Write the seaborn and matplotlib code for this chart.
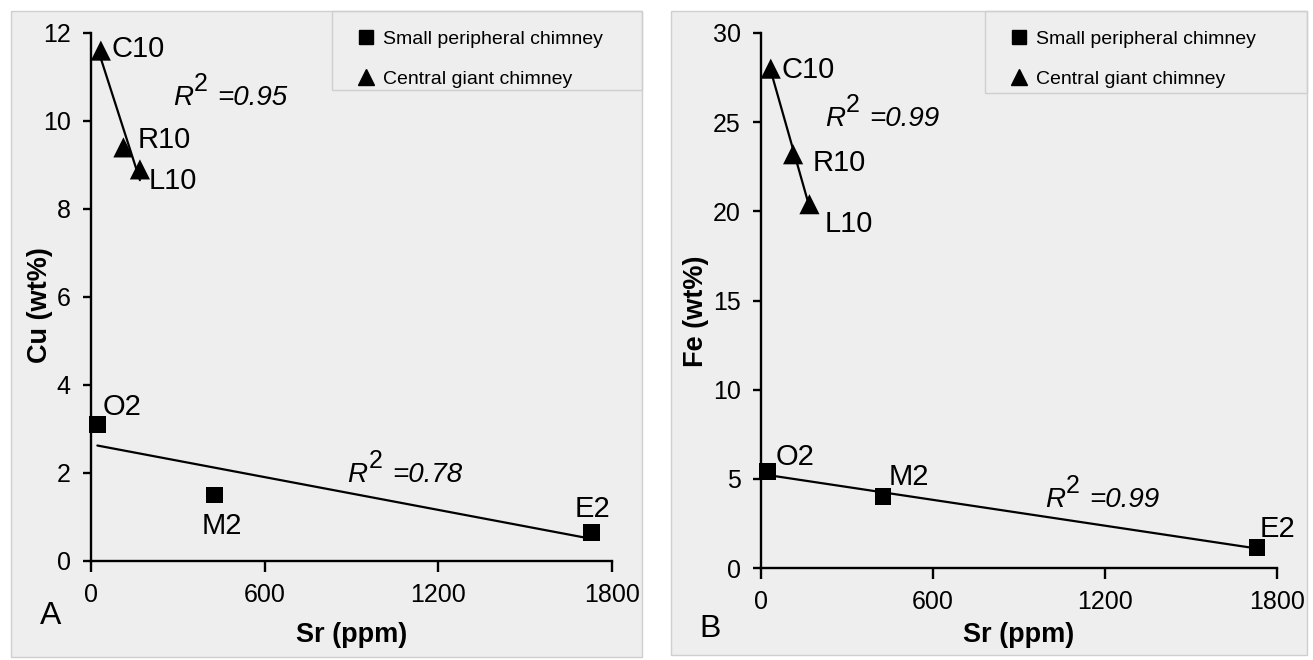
import pandas as pd
import matplotlib.pyplot as plt
import seaborn as sns
from matplotlib.lines import Line2D
from matplotlib.patches import Rectangle

# ==========================================================
# DATA
# ==========================================================

samples = ["C10", "R10", "L10", "O2", "M2", "E2"]
chimney = ["Central giant chimney"] * 3 + ["Small peripheral chimney"] * 3
sr_ppm = [34, 112, 169, 22, 426, 1730]
cu_wt = [11.6, 9.4, 8.9, 3.1, 1.5, 0.65]
fe_wt = [28.0, 23.2, 20.4, 5.4, 4.0, 1.15]

r2_cu = ["0.95", "0.78"]
r2_fe = ["0.99", "0.99"]

x_ticks = [0, 600, 1200, 1800]
cu_ticks = [0, 2, 4, 6, 8, 10, 12]
fe_ticks = [0, 5, 10, 15, 20, 25, 30]

df = pd.DataFrame({
    "Sample": samples,
    "Chimney": chimney,
    "Sr": sr_ppm,
    "Cu": cu_wt,
    "Fe": fe_wt
})

# ==========================================================
# STYLE
# ==========================================================

sns.set_style("ticks")
plt.rcParams["font.family"] = ["Liberation Sans", "DejaVu Sans"]
plt.rcParams["text.color"] = "black"
plt.rcParams["axes.labelcolor"] = "black"
plt.rcParams["xtick.color"] = "black"
plt.rcParams["ytick.color"] = "black"

BG = "#eeeeee"
EDGE = "#cfcfcf"
W, H = 1313, 660

markers = {"Small peripheral chimney": "s", "Central giant chimney": "^"}
sizes = {"Small peripheral chimney": 144, "Central giant chimney": 210}

# label offsets (points) per sample, one list per panel
offs_a = [(8, 1), (10, 5), (6.5, -8), (4, 13), (-9, -22), (-12, 17)]
offs_b = [(8, -1), (14, -6), (11, -14.5), (6, 10.5), (4, 14), (2, 13.5)]

# R^2 text anchors (data coords)
r2_pos_a = [(284, 10.36), (886, 1.80)]
r2_pos_b = [(224, 24.8), (990, 3.44)]

fig = plt.figure(figsize=(W / 100, H / 100), dpi=100)
fig.patch.set_facecolor("white")


def px_rect(x0, y0, x1, y1, **kw):
    r = Rectangle((x0 / W, 1 - y1 / H), (x1 - x0) / W, (y1 - y0) / H,
                  transform=fig.transFigure, **kw)
    fig.patches.append(r)


# panel backgrounds and legend boxes
px_rect(11, 11, 642, 657, facecolor=BG, edgecolor=EDGE, lw=1, zorder=-5)
px_rect(671, 11, 1307, 655, facecolor=BG, edgecolor=EDGE, lw=1, zorder=-5)
px_rect(332, 11, 642, 90, facecolor="none", edgecolor=EDGE, lw=1, zorder=-4)
px_rect(985, 11, 1307, 93, facecolor="none", edgecolor=EDGE, lw=1, zorder=-4)

ax_a = fig.add_axes([91 / W, 1 - 561 / H, 521 / W, 528 / H])
ax_b = fig.add_axes([761 / W, 1 - 568 / H, 516 / W, 535 / H])


def draw_panel(ax, col, ymax, yticks, ylabel, offs, r2_pos, r2_txt,
               ylab_xy, xlab_y):

    ax.set_facecolor("none")

    for group in ["Central giant chimney", "Small peripheral chimney"]:
        sub = df[df["Chimney"] == group]
        sns.regplot(
            data=sub, x="Sr", y=col, ax=ax, ci=None, scatter=False,
            truncate=True, color="black", line_kws={"lw": 1.6}
        )

    sns.scatterplot(
        data=df, x="Sr", y=col, style="Chimney", size="Chimney",
        markers=markers, sizes=sizes, color="black", linewidth=0,
        legend=False, ax=ax, clip_on=False, zorder=5
    )

    for name, x, y, (dx, dy) in zip(samples, df["Sr"], df[col], offs):
        ax.annotate(name, (x, y), xytext=(dx, dy),
                    textcoords="offset points", ha="left", va="center",
                    fontsize=21, annotation_clip=False)

    for (x, y), val in zip(r2_pos, r2_txt):
        ax.text(x, y, "R", style="italic", fontsize=20,
                ha="left", va="baseline")
        ax.annotate("2", (x, y), xytext=(15, 10),
                    textcoords="offset points", fontsize=18,
                    ha="left", va="baseline")
        ax.annotate("=" + val, (x, y), xytext=(32, 0),
                    textcoords="offset points", fontsize=20,
                    style="italic", ha="left", va="baseline")

    ax.set_xlim(0, 1800)
    ax.set_ylim(0, ymax)
    ax.set_xticks(x_ticks)
    ax.set_yticks(yticks)

    for s in ["top", "right"]:
        ax.spines[s].set_visible(False)
    for s in ["left", "bottom"]:
        ax.spines[s].set_linewidth(1.7)
        ax.spines[s].set_color("black")

    ax.tick_params(axis="y", length=6, width=1.7, pad=8.5,
                   labelsize=18, color="black")
    ax.tick_params(axis="x", length=8, width=1.7, pad=8,
                   labelsize=18, color="black")

    ax.set_xlabel("Sr (ppm)", fontsize=19.5, fontweight="bold")
    ax.set_ylabel(ylabel, fontsize=19.5, fontweight="bold")
    ax.xaxis.set_label_coords(0.5, xlab_y)
    ax.yaxis.set_label_coords(*ylab_xy)


draw_panel(ax_a, "Cu", 12, cu_ticks, "Cu (wt%)", offs_a, r2_pos_a, r2_cu,
           (-0.073, 0.485), -0.115)
draw_panel(ax_b, "Fe", 30, fe_ticks, "Fe (wt%)", offs_b, r2_pos_b, r2_fe,
           (-0.100, 0.48), -0.100)

# panel letters
fig.text(51 / W, 1 - 616 / H, "A", fontsize=23, ha="center", va="center")
fig.text(710 / W, 1 - 629 / H, "B", fontsize=23, ha="center", va="center")

# ==========================================================
# LEGENDS
# ==========================================================

handles = [
    Line2D([], [], marker="s", color="black", ls="none", markersize=9.5,
           label="Small peripheral chimney"),
    Line2D([], [], marker="^", color="black", ls="none", markersize=12,
           label="Central giant chimney"),
]

for (x0, x1) in [(333, 642), (986, 1307)]:
    fig.legend(
        handles=handles, loc="upper left",
        bbox_to_anchor=(x0 / W, 1 - 11 / H),
        bbox_transform=fig.transFigure,
        prop={"size": 14},
        frameon=False, borderpad=0.98, labelspacing=1.15,
        handlelength=1.4, handletextpad=0.2, borderaxespad=0
    )

fig.savefig("out.png", dpi=100, facecolor="white")
plt.close()
